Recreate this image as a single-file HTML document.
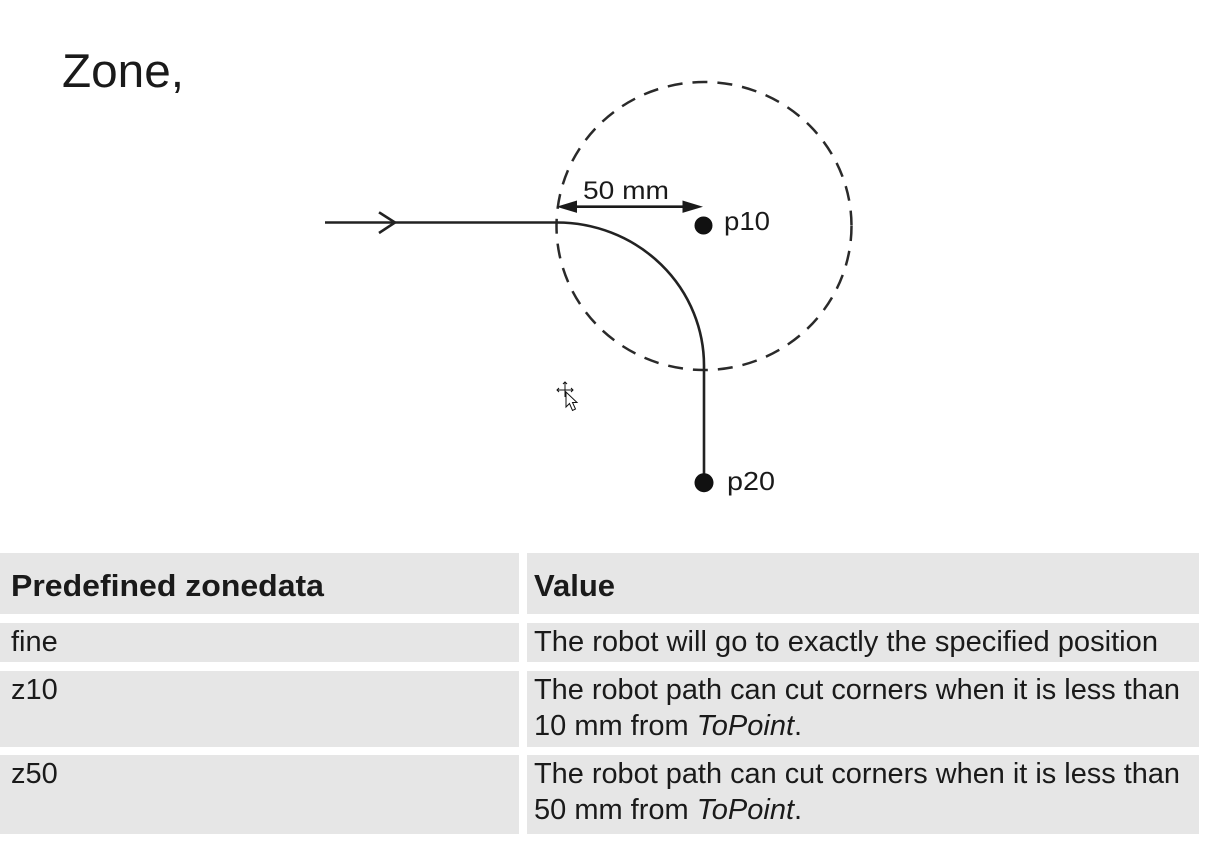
<!DOCTYPE html>
<html>
<head>
<meta charset="utf-8">
<style>
  html, body { margin: 0; padding: 0; background: #ffffff; }
  body { width: 1205px; height: 843px; overflow: hidden; }
  svg { display: block; }
  .t { font-family: "Liberation Sans", Arial, sans-serif; fill: #1a1a1a; }
</style>
</head>
<body>
<svg width="1205" height="843" viewBox="0 0 1205 843" xmlns="http://www.w3.org/2000/svg">
  <rect x="0" y="0" width="1205" height="843" fill="#ffffff"/>

  <!-- Title -->
  <text class="t" x="62" y="87" font-size="47" fill="#111" textLength="122" lengthAdjust="spacingAndGlyphs">Zone,</text>

  <!-- Diagram -->
  <!-- dashed circle -->
  <ellipse cx="704" cy="226" rx="147.5" ry="144" fill="none" stroke="#2a2a2a" stroke-width="2.5" stroke-dasharray="15 10"/>

  <!-- path line -->
  <path d="M325,222.5 H557 A147 143 0 0 1 704,366 V483" fill="none" stroke="#222" stroke-width="2.6"/>
  <!-- chevron -->
  <polyline points="379,212.3 395,222.5 379,233" fill="none" stroke="#222" stroke-width="2.6" stroke-linejoin="miter"/>

  <!-- dimension arrow -->
  <line x1="570" y1="206.7" x2="690" y2="206.7" stroke="#1a1a1a" stroke-width="2.6"/>
  <polygon points="556.5,206.7 577,200.5 577,212.9" fill="#1a1a1a"/>
  <polygon points="703,206.7 682.5,200.5 682.5,212.9" fill="#1a1a1a"/>
  <text class="t" x="583" y="199" font-size="25" textLength="86" lengthAdjust="spacingAndGlyphs">50 mm</text>

  <!-- p10 -->
  <circle cx="703.5" cy="225.5" r="9" fill="#111"/>
  <text class="t" x="724" y="230" font-size="26" textLength="46" lengthAdjust="spacingAndGlyphs">p10</text>

  <!-- p20 -->
  <circle cx="704" cy="482.7" r="9.5" fill="#111"/>
  <text class="t" x="727" y="490" font-size="26" textLength="48" lengthAdjust="spacingAndGlyphs">p20</text>

  <!-- cursor -->
  <g stroke="#111" stroke-width="1" fill="none">
    <line x1="557" y1="390" x2="573" y2="390"/>
    <line x1="565" y1="382" x2="565" y2="397"/>
    <polyline points="559,388 557,390 559,392"/>
    <polyline points="571,388 573,390 571,392"/>
    <polyline points="563,384 565,382 567,384"/>
  </g>
  <polygon points="566,392 566,407 569.5,403.5 572.5,410.5 575.5,409 572.5,402.5 577,402.5" fill="#ffffff" stroke="#111" stroke-width="1"/>

  <!-- Table -->
  <g fill="#e6e6e6">
    <rect x="0" y="553" width="519" height="61"/>
    <rect x="527" y="553" width="672" height="61"/>
    <rect x="0" y="623" width="519" height="39"/>
    <rect x="527" y="623" width="672" height="39"/>
    <rect x="0" y="671" width="519" height="76"/>
    <rect x="527" y="671" width="672" height="76"/>
    <rect x="0" y="755" width="519" height="79"/>
    <rect x="527" y="755" width="672" height="79"/>
  </g>

  <!-- header -->
  <text class="t" x="11" y="596" font-size="31" font-weight="bold" fill="#111" textLength="313" lengthAdjust="spacingAndGlyphs">Predefined zonedata</text>
  <text class="t" x="534" y="596" font-size="31" font-weight="bold" fill="#111">Value</text>

  <!-- row fine -->
  <text class="t" x="11" y="651" font-size="29">fine</text>
  <text class="t" x="534" y="651" font-size="29" textLength="624" lengthAdjust="spacingAndGlyphs">The robot will go to exactly the specified position</text>

  <!-- row z10 -->
  <text class="t" x="11" y="699" font-size="29">z10</text>
  <text class="t" x="534" y="699" font-size="29" textLength="646" lengthAdjust="spacingAndGlyphs">The robot path can cut corners when it is less than</text>
  <text class="t" x="534" y="735" font-size="29">10 mm from <tspan font-style="italic">ToPoint</tspan>.</text>

  <!-- row z50 -->
  <text class="t" x="11" y="783" font-size="29">z50</text>
  <text class="t" x="534" y="783" font-size="29" textLength="646" lengthAdjust="spacingAndGlyphs">The robot path can cut corners when it is less than</text>
  <text class="t" x="534" y="819" font-size="29">50 mm from <tspan font-style="italic">ToPoint</tspan>.</text>
</svg>
</body>
</html>
